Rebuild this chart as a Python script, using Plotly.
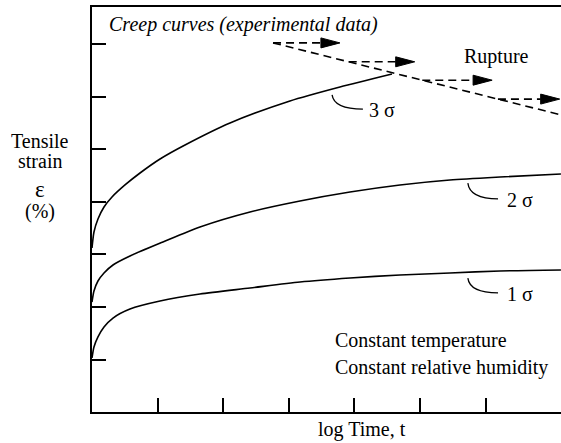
import plotly.graph_objects as go

# ---- data (axis units: x = log time, y = tensile strain) ----
curve_1s_x = [0, 0.030, 0.091, 0.183, 0.320, 0.579, 1.037, 1.646, 2.409, 3.171, 3.933, 4.695, 5.457, 6.220, 7.149]
curve_1s_y = [1.029, 1.238, 1.429, 1.619, 1.790, 1.962, 2.114, 2.248, 2.362, 2.476, 2.552, 2.610, 2.648, 2.686, 2.705]

curve_2s_x = [0, 0.030, 0.091, 0.183, 0.320, 0.579, 1.082, 1.646, 2.409, 3.171, 3.933, 4.695, 5.457, 6.220, 7.149]
curve_2s_y = [2.095, 2.305, 2.495, 2.648, 2.800, 2.971, 3.238, 3.524, 3.810, 4.019, 4.190, 4.324, 4.419, 4.476, 4.533]

curve_3s_x = [0, 0.030, 0.091, 0.183, 0.305, 0.503, 0.732, 1.037, 1.418, 2.104, 3.018, 3.780, 4.573]
curve_3s_y = [3.124, 3.429, 3.676, 3.905, 4.095, 4.324, 4.552, 4.819, 5.086, 5.505, 5.924, 6.190, 6.438]

rupture_x = [2.76, 7.15]
rupture_y = [7.03, 5.66]

arrow_y = [7.03, 6.67, 6.32, 5.96]
arrow_tip_x = [3.78, 4.92, 6.10, 7.13]

x_ticks = [1, 2, 3, 4, 5, 6]
y_ticks = [1, 2, 3, 4, 5, 6, 7]

curve_labels = ["1 σ", "2 σ", "3 σ"]
label_pos = [(6.52, 2.25), (6.52, 4.04), (4.42, 5.75)]
leader_start = [(5.73, 2.55), (5.73, 4.36), (3.66, 6.04)]
leader_end = [(6.19, 2.27), (6.19, 4.06), (4.13, 5.77)]

X_RANGE = [0, 7.15]
Y_RANGE = [0, 7.714]

FONT = "Liberation Serif"
FS = 20
LW = 1.6
DASH = "8px,5px"
HEAD_LEN = 0.29
HEAD_HALF = 0.095

fig = go.Figure()

for xs, ys in [(curve_1s_x, curve_1s_y), (curve_2s_x, curve_2s_y), (curve_3s_x, curve_3s_y)]:
    fig.add_trace(go.Scatter(x=xs, y=ys, mode="lines",
                             line=dict(color="black", width=LW, shape="spline", smoothing=0.7),
                             hoverinfo="skip", showlegend=False))

# rupture line
fig.add_trace(go.Scatter(x=rupture_x, y=rupture_y, mode="lines",
                         line=dict(color="black", width=LW, dash=DASH),
                         hoverinfo="skip", showlegend=False))

# horizontal dashed arrows starting from rupture line
slope = (rupture_x[1] - rupture_x[0]) / (rupture_y[0] - rupture_y[1])
hx, hy, tx, ty = [], [], [], []
for yv, tip in zip(arrow_y, arrow_tip_x):
    sx = rupture_x[0] + (rupture_y[0] - yv) * slope
    hx += [sx, tip - HEAD_LEN, None]
    hy += [yv, yv, None]
    tx += [tip - HEAD_LEN, tip, tip - HEAD_LEN, tip - HEAD_LEN, None]
    ty += [yv + HEAD_HALF, yv, yv - HEAD_HALF, yv + HEAD_HALF, None]

fig.add_trace(go.Scatter(x=hx, y=hy, mode="lines",
                         line=dict(color="black", width=LW, dash=DASH),
                         hoverinfo="skip", showlegend=False))
fig.add_trace(go.Scatter(x=tx, y=ty, mode="lines", fill="toself", fillcolor="black",
                         line=dict(color="black", width=1),
                         hoverinfo="skip", showlegend=False))

# leaders
for (x0, y0), (x1, y1) in zip(leader_start, leader_end):
    fig.add_shape(type="path", xref="x", yref="y",
                  path=f"M {x0},{y0} Q {x0 + 0.03},{y1} {x1},{y1}",
                  line=dict(color="black", width=1.3))

annots = []
for txt, (lx, ly) in zip(curve_labels, label_pos):
    annots.append(dict(x=lx, y=ly, text=txt, xref="x", yref="y", showarrow=False,
                       font=dict(size=FS), xanchor="center", yanchor="middle"))

annots += [
    dict(x=0.23, y=7.39, text="<i>Creep curves (experimental data)</i>", xref="x", yref="y",
         showarrow=False, font=dict(size=FS), xanchor="left", yanchor="middle"),
    dict(x=6.17, y=6.78, text="Rupture", xref="x", yref="y", showarrow=False,
         font=dict(size=FS), xanchor="center", yanchor="middle"),
    dict(x=3.67, y=1.36, text="Constant temperature", xref="x", yref="y", showarrow=False,
         font=dict(size=FS), xanchor="left", yanchor="middle"),
    dict(x=3.67, y=0.85, text="Constant relative humidity", xref="x", yref="y", showarrow=False,
         font=dict(size=FS), xanchor="left", yanchor="middle"),
    dict(x=4.12, y=-0.044, text="log Time, t", xref="x", yref="paper", showarrow=False,
         font=dict(size=FS), xanchor="center", yanchor="middle"),
    dict(x=-0.111, y=5.17, text="Tensile", xref="paper", yref="y", showarrow=False,
         font=dict(size=FS), xanchor="center", yanchor="middle", height=20),
    dict(x=-0.111, y=4.79, text="strain", xref="paper", yref="y", showarrow=False,
         font=dict(size=FS), xanchor="center", yanchor="middle", height=20),
    dict(x=-0.111, y=4.23, text="ε", xref="paper", yref="y", showarrow=False,
         font=dict(size=23), xanchor="center", yanchor="middle"),
    dict(x=-0.111, y=3.81, text="(%)", xref="paper", yref="y", showarrow=False,
         font=dict(size=FS), xanchor="center", yanchor="middle"),
]

fig.update_layout(
    width=561, height=443,
    margin=dict(l=92, r=0, t=7, b=31, pad=0),
    paper_bgcolor="white", plot_bgcolor="white",
    font=dict(family=FONT, color="black", size=FS),
    showlegend=False,
    annotations=annots,
    xaxis=dict(range=X_RANGE, showgrid=False, zeroline=False, showline=True, mirror=True,
               linecolor="black", linewidth=LW, ticks="inside", ticklen=14, tickwidth=LW,
               tickcolor="black", tickvals=x_ticks, showticklabels=False, fixedrange=True),
    yaxis=dict(range=Y_RANGE, showgrid=False, zeroline=False, showline=True, mirror=False,
               linecolor="black", linewidth=LW, ticks="inside", ticklen=14, tickwidth=LW,
               tickcolor="black", tickvals=y_ticks, showticklabels=False, fixedrange=True),
)

fig.write_html("out.html", config={"displayModeBar": False},
               post_script="document.body.style.margin='0';document.body.style.overflow='hidden';")
